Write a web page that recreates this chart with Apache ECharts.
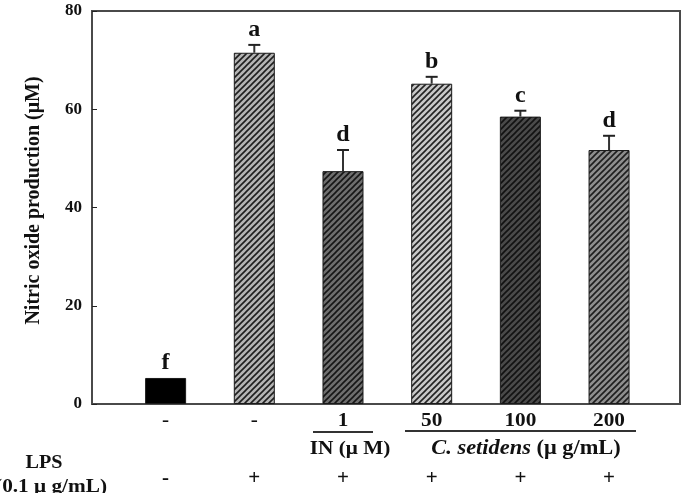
<!DOCTYPE html>
<html lang="en">
<head>
    <meta charset="UTF-8">
    <title>Nitric oxide production</title>
    <script src="https://cdn.jsdelivr.net/npm/echarts@6/dist/echarts.min.js"></script>
    <style>
        html, body { margin: 0; padding: 0; background: #fff; }
        #main { width: 686px; height: 493px; }
    </style>
</head>
<body>
<div id="main"></div>
<script type="text/javascript">
    // data
    var positions = [1, 2, 3, 4, 5, 6];
    var doseLabels = ['-', '-', '1', '50', '100', '200'];
    var lpsLabels = ['-', '+', '+', '+', '+', '+'];
    var means = [5.3, 71.5, 47.4, 65.2, 58.5, 51.7];
    var errors = [0, 1.6, 4.3, 1.4, 1.2, 2.9];
    var letters = ['f', 'a', 'd', 'b', 'c', 'd'];
    var yTicks = [0, 20, 40, 60, 80];

    var serif = '"Liberation Serif", "DejaVu Serif", serif';

    // hatched fill, like the original bars
    function hatch(base, line) {
        var c = document.createElement('canvas');
        c.width = 6; c.height = 6;
        var ctx = c.getContext('2d');
        ctx.fillStyle = base;
        ctx.fillRect(0, 0, 6, 6);
        ctx.strokeStyle = line;
        ctx.lineWidth = 1.6;
        ctx.beginPath();
        ctx.moveTo(-1, 7); ctx.lineTo(7, -1);
        ctx.moveTo(-4, 4); ctx.lineTo(4, -4);
        ctx.moveTo(2, 10); ctx.lineTo(10, 2);
        ctx.stroke();
        return { image: c, repeat: 'repeat' };
    }
    var fills = [
        '#000000',
        hatch('#b4b4b4', '#1e1e1e'),
        hatch('#6e6e6e', '#161616'),
        hatch('#c8c8c8', '#222222'),
        hatch('#4a4a4a', '#121212'),
        hatch('#8e8e8e', '#1e1e1e')
    ];

    var barData = positions.map(function (p, i) {
        return { value: [p, means[i]], itemStyle: { color: fills[i] } };
    });
    var errData = positions.map(function (p, i) {
        return [p, means[i], errors[i]];
    });

    function txt(x, y, s, size, align, extra) {
        var o = { type: 'text', x: x, y: y, scaleX: 1.12,
            style: { text: s, fontFamily: serif, fontWeight: 'bold', fontSize: size, fill: '#111',
                align: align || 'center', verticalAlign: 'middle' } };
        if (extra) { o.style.rich = extra; }
        return o;
    }

    var myChart = echarts.init(document.getElementById('main'));
    var option = {
        animation: false,
        grid: { left: 92, right: 6, top: 11, bottom: 89, show: true, borderColor: '#4a4a4a', borderWidth: 2 },
        xAxis: {
            type: 'value', min: 0.17, max: 6.8,
            axisLine: { show: false }, axisTick: { show: false },
            axisLabel: { show: false }, splitLine: { show: false }
        },
        yAxis: {
            type: 'value', min: yTicks[0], max: yTicks[yTicks.length - 1], interval: 20,
            name: 'Nitric oxide production (\u03bcM)',
            nameLocation: 'middle', nameGap: 48, nameRotate: 90,
            nameTextStyle: { fontFamily: serif, fontWeight: 'bold', fontSize: 20, color: '#111', padding: [0, 0, 0, 14] },
            axisLine: { show: true, lineStyle: { color: '#4a4a4a', width: 2 } },
            axisTick: { show: true, inside: true, length: 5, lineStyle: { color: '#222' } },
            axisLabel: { fontFamily: serif, fontWeight: 'bold', fontSize: 17, color: '#111', margin: 10 },
            splitLine: { show: false }
        },
        series: [
            {
                type: 'bar',
                barWidth: 41,
                data: barData,
                itemStyle: { borderColor: '#1a1a1a', borderWidth: 1 },
                z: 2
            },
            {
                // error bars + significance letters + labels below axis
                type: 'custom',
                data: errData,
                clip: false,
                z: 3,
                renderItem: function (params, api) {
                    var i = params.dataIndex;
                    var x = api.value(0), m = api.value(1), e = api.value(2);
                    var top = api.coord([x, m]);
                    var hi = api.coord([x, m + e]);
                    var base = api.coord([x, 0]);
                    var kids = [];
                    if (e > 0) {
                        kids.push({ type: 'line', shape: { x1: top[0], y1: top[1], x2: hi[0], y2: hi[1] },
                            style: { stroke: '#333', lineWidth: 2 } });
                        kids.push({ type: 'line', shape: { x1: hi[0] - 6, y1: hi[1], x2: hi[0] + 6, y2: hi[1] },
                            style: { stroke: '#222', lineWidth: 2 } });
                    }
                    kids.push({ type: 'text', x: hi[0], y: hi[1] - 15,
                        style: { text: letters[i], fontFamily: serif, fontWeight: 'bold', fontSize: 24,
                            fill: '#111', align: 'center', verticalAlign: 'middle' } });
                    kids.push({ type: 'text', x: base[0], y: base[1] + 17, scaleX: 1.12,
                        style: { text: doseLabels[i], fontFamily: serif, fontWeight: 'bold', fontSize: 19,
                            fill: '#111', align: 'center', verticalAlign: 'middle' } });
                    kids.push({ type: 'text', x: base[0], y: base[1] + 75,
                        style: { text: lpsLabels[i], fontFamily: serif, fontWeight: 'bold', fontSize: 21,
                            fill: '#111', align: 'center', verticalAlign: 'middle' } });
                    return { type: 'group', children: kids };
                }
            }
        ],
        graphic: [
            { type: 'line', shape: { x1: 313, y1: 432, x2: 373, y2: 432 }, style: { stroke: '#333', lineWidth: 2 } },
            { type: 'line', shape: { x1: 405, y1: 431, x2: 636, y2: 431 }, style: { stroke: '#333', lineWidth: 2 } },
            txt(350, 449, 'IN (\u03bc M)', 19),
            txt(526, 449, '{i|C. setidens} (\u03bc g/mL)', 20, 'center',
                { i: { fontFamily: serif, fontWeight: 'bold', fontStyle: 'italic', fontSize: 20, fill: '#111' } }),
            txt(44, 463, 'LPS', 18),
            txt(107, 487, '(0.1 \u03bc g/mL)', 19, 'right')
        ]
    };
    myChart.setOption(option);
</script>
</body>
</html>
